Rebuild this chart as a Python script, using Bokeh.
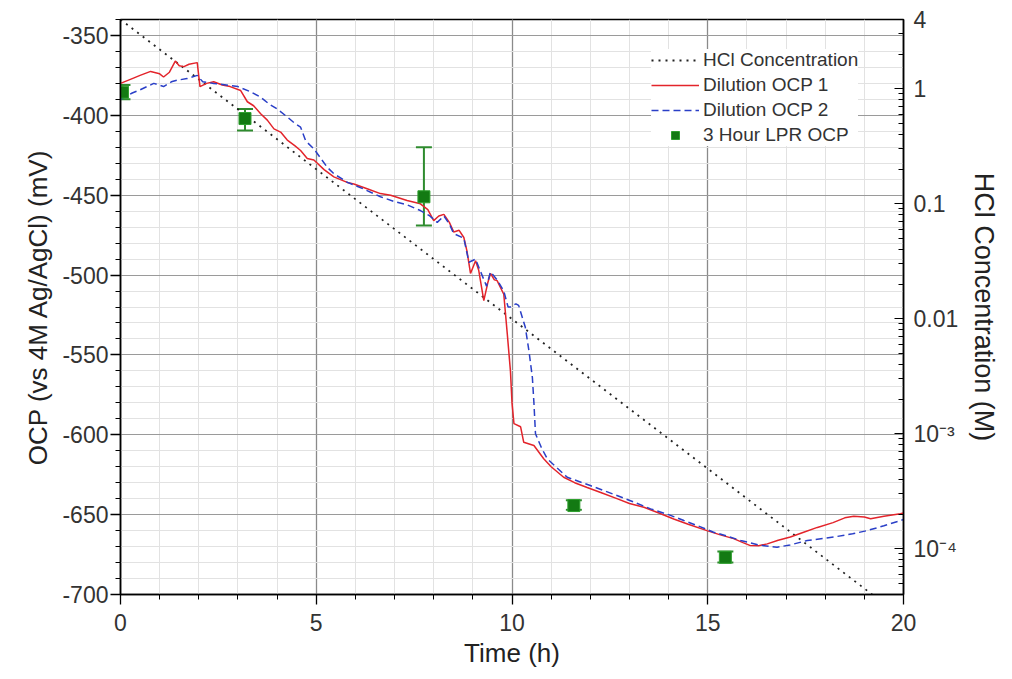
from bokeh.plotting import figure
from bokeh.models import (Range1d, LogAxis, FixedTicker, SingleIntervalTicker, Whisker,
                          ColumnDataSource, Legend, LegendItem, TeeHead, LogScale,
                          PrintfTickFormatter)
from bokeh.embed import file_html
from bokeh.resources import INLINE

# ---------------- data ----------------
ocp1_t = [0.0, 0.3, 0.5, 0.77, 1.0, 1.1, 1.25, 1.4, 1.5, 1.62, 1.75, 1.96, 2.03, 2.2, 2.38, 2.6,
          2.8, 3.07, 3.24, 3.4, 3.58, 3.75, 3.92, 4.09, 4.26, 4.45, 4.6, 4.77, 4.94, 5.2, 5.45,
          5.79, 5.96, 6.3, 6.64, 6.9, 7.32, 7.66, 7.85, 8.0, 8.13, 8.26, 8.4, 8.51, 8.65, 8.77,
          8.85, 8.94, 9.07, 9.15, 9.28, 9.38, 9.45, 9.55, 9.62, 9.79, 9.88, 9.96, 10.0, 10.05,
          10.22, 10.3, 10.56, 10.81, 11.0, 11.32, 11.6, 11.92, 12.3, 12.68, 13.0, 13.37, 13.75,
          14.13, 14.5, 14.98, 15.3, 15.66, 15.9, 16.09, 16.3, 16.52, 16.8, 17.11, 17.45, 17.8,
          18.2, 18.5, 18.73, 19.0, 19.16, 19.5, 19.92, 20.0]
ocp1_v = [-380, -377, -375, -372.5, -374, -376, -373, -366, -369, -369.5, -368, -367, -382, -380,
          -379, -381, -382, -384.5, -391.5, -394, -399, -403, -408.5, -410.5, -415.5, -419, -422,
          -427, -428, -434, -438.5, -442, -443, -446, -449, -450, -453.3, -455.4, -459, -465.9,
          -463, -462, -467, -473, -472, -476.5, -485, -499, -491, -497, -516, -505, -499, -503,
          -503.5, -512, -537, -560, -580, -593, -595, -604.7, -606.7, -615, -620, -626.6, -630,
          -633, -636.5, -640, -643, -645.4, -649, -652.7, -656, -660, -662.5, -665, -667.5,
          -669.4, -669.5, -668.3, -666, -664, -661, -658, -655, -652, -651, -651.5, -652.6,
          -651, -649.5, -649]

ocp2_t = [0.0, 0.3, 0.5, 0.85, 1.1, 1.3, 1.45, 1.7, 1.96, 2.1, 2.38, 2.7, 3.0, 3.3, 3.58, 3.8,
          4.0, 4.26, 4.45, 4.6, 4.73, 4.94, 5.28, 5.45, 5.8, 6.2, 6.64, 7.0, 7.32, 7.66, 7.9,
          8.09, 8.26, 8.4, 8.51, 8.77, 8.9, 9.07, 9.2, 9.35, 9.45, 9.62, 9.79, 9.9, 9.96, 10.1,
          10.17, 10.34, 10.43, 10.52, 10.56, 10.6, 10.75, 10.9, 11.41, 12.0, 12.68, 13.1, 13.54,
          14.0, 14.39, 14.8, 15.15, 15.5, 15.84, 16.3, 16.77, 17.1, 17.54, 18.22, 18.7, 19.07,
          19.5, 19.92, 20.0]
ocp2_v = [-390, -386, -384, -380, -382, -379, -378, -377, -375, -379, -380, -381, -382, -385,
          -388.6, -393, -396, -401, -405, -407.4, -416, -421, -432.5, -436.6, -442, -446, -451,
          -454, -456, -459.6, -463, -467, -463, -468, -474, -477, -492, -490, -498, -507, -498,
          -503, -510, -520, -520, -518, -519, -532.7, -547, -564, -580, -599.4, -608, -615,
          -626.6, -631.8, -638, -642, -646.4, -650, -653.7, -657.5, -661, -663.5, -666.2, -669,
          -670.4, -669, -666.2, -664, -662, -660, -657, -653.7, -653]

hcl_t = [0.0, 19.2]
hcl_c = [4.0, 4e-5]

lpr_t = [0.05, 3.18, 7.75, 11.58, 15.45]
lpr_v = [-385.5, -402, -451, -644.3, -676.7]
lpr_up = [-381, -396, -420, -641, -673]
lpr_lo = [-390, -409.5, -469, -647, -680]

conc_ticks = [4, 1, 0.1, 0.01, 1e-3, 1e-4]
conc_labels = ["4", "1", "0.1", "0.01", "10\u207b\u00b3", "10\u207b\u2074"]

FONT = "Liberation Sans"

# ---------------- figure ----------------
W, H = 1012, 672
p = figure(width=W, height=H, output_backend="svg", toolbar_location=None,
           x_range=Range1d(0, 20), y_range=Range1d(-700, -340),
           min_border_left=120, min_border_right=109, min_border_top=19, min_border_bottom=78)
p.extra_y_ranges = {"conc": Range1d(4e-5, 4)}
p.extra_y_scales = {"conc": LogScale()}

p.outline_line_color = "black"
p.outline_line_width = 1.5
p.background_fill_color = "white"
p.border_fill_color = "white"

p.xaxis.ticker = SingleIntervalTicker(interval=5, num_minor_ticks=5)
p.yaxis.ticker = SingleIntervalTicker(interval=50, num_minor_ticks=5)
p.yaxis.formatter = PrintfTickFormatter(format="%d")
p.xaxis.formatter = PrintfTickFormatter(format="%d")
p.xaxis.axis_label = "Time (h)"
p.yaxis.axis_label = "OCP (vs 4M Ag/AgCl) (mV)"
for ax in (p.xaxis[0], p.yaxis[0]):
    ax.axis_label_text_font = FONT
    ax.axis_label_text_font_style = "normal"
    ax.axis_label_text_font_size = "26px"
    ax.axis_label_text_color = "#222222"
    ax.major_label_text_font = FONT
    ax.major_label_text_font_size = "23px"
    ax.major_label_text_color = "#333333"
    ax.axis_line_color = "black"
    ax.axis_line_width = 1.5
    ax.major_tick_line_color = "black"
    ax.minor_tick_line_color = "black"
    ax.major_tick_in = 0
    ax.major_tick_out = 10
    ax.minor_tick_in = 0
    ax.minor_tick_out = 5
    ax.major_tick_line_width = 1.3
p.xaxis.major_label_standoff = 9
p.yaxis.major_label_standoff = 2
p.xaxis.axis_label_standoff = 4
p.yaxis.axis_label_standoff = 6

minor_conc = []
for dec in [1e-5, 1e-4, 1e-3, 1e-2, 1e-1, 1]:
    for k in range(2, 10):
        v = k * dec
        if 4e-5 <= v <= 4:
            minor_conc.append(v)
right = LogAxis(y_range_name="conc",
                ticker=FixedTicker(ticks=conc_ticks, minor_ticks=minor_conc),
                axis_label="HCl Concentration (M)")
right.major_label_overrides = {t: l for t, l in zip(conc_ticks, conc_labels)}
right.axis_label_text_font = FONT
right.axis_label_text_font_style = "normal"
right.axis_label_text_font_size = "27px"
right.axis_label_text_color = "#222222"
right.major_label_text_font = FONT
right.major_label_text_font_size = "23px"
right.major_label_text_color = "#333333"
right.axis_line_color = "black"
right.axis_line_width = 1.5
right.major_tick_in = 9
right.major_tick_out = 0
right.minor_tick_in = 5
right.minor_tick_out = 0
right.major_label_standoff = 10
right.axis_label_standoff = 8
p.add_layout(right, "right")

p.xgrid.grid_line_color = "#8a8a8a"
p.xgrid.grid_line_width = 1.3
p.xgrid.minor_grid_line_color = "#e2e2e2"
p.ygrid.grid_line_color = "#9a9a9a"
p.ygrid.grid_line_width = 1.2
p.ygrid.minor_grid_line_color = "#e2e2e2"

r_hcl = p.line(hcl_t, hcl_c, y_range_name="conc", line_color="#222222",
               line_dash="2 5", line_width=1.8)
r1 = p.line(ocp1_t, ocp1_v, line_color="#e3242b", line_width=1.5)
r2 = p.line(ocp2_t, ocp2_v, line_color="#2a3fc7", line_width=1.5, line_dash="7 4")

src = ColumnDataSource(dict(t=lpr_t, v=lpr_v, up=lpr_up, lo=lpr_lo))
wh = Whisker(base="t", upper="up", lower="lo", source=src,
             line_color="#2e8b2e", line_width=2,
             upper_head=TeeHead(size=16, line_color="#2e8b2e", line_width=2),
             lower_head=TeeHead(size=16, line_color="#2e8b2e", line_width=2))
p.add_layout(wh)
r_lpr = p.scatter("t", "v", source=src, marker="square", size=12,
                  fill_color="#137a13", line_color="#2fa02f", line_width=1)

legend = Legend(items=[
    LegendItem(label="HCl Concentration", renderers=[r_hcl]),
    LegendItem(label="Dilution OCP 1", renderers=[r1]),
    LegendItem(label="Dilution OCP 2", renderers=[r2]),
    LegendItem(label="3 Hour LPR OCP", renderers=[r_lpr]),
], location=(531, 448))
legend.label_text_font = FONT
legend.label_text_font_size = "19px"
legend.label_text_color = "#333333"
legend.glyph_width = 48
legend.glyph_height = 20
legend.label_height = 20
legend.label_standoff = 4
legend.spacing = 3
legend.padding = 4
legend.margin = 0
legend.border_line_color = None
legend.background_fill_color = "white"
legend.background_fill_alpha = 1.0
p.add_layout(legend)

open("out.html", "w").write(file_html(p, INLINE))
